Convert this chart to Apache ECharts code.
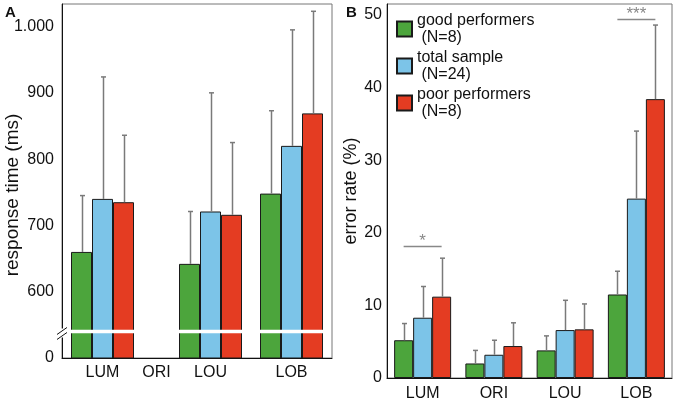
<!DOCTYPE html>
<html><head><meta charset="utf-8">
<script src="https://cdn.jsdelivr.net/npm/echarts@6/dist/echarts.min.js"></script>
<style>html,body{margin:0;padding:0;background:#fff}#c{width:678px;height:402px}</style>
</head><body><div id="c"></div>
<script>
// ---------- data ----------
const categories = ['LUM', 'ORI', 'LOU', 'LOB'];
const seriesNames = ['good performers\n (N=8)', 'total sample\n (N=24)', 'poor performers\n (N=8)'];

// Panel A: response time (ms) — no values for ORI
const rtGood  = [660, null, 642, 748];
const rtTotal = [740, null, 721, 820];
const rtPoor  = [735, null, 716, 869];
const rtGoodUpper  = [745, null, 721, 873];
const rtTotalUpper = [924, null, 900, 995];
const rtPoorUpper  = [836, null, 825, 1023];
const rtTicks = [500, 600, 700, 800, 900, 1000];          // 500 = bottom of broken axis
const rtTickLabels = ['0', '600', '700', '800', '900', '1.000'];
const rtBreak = 540;
const rtAxisName = 'response time (ms)';

// Panel B: error rate (%)
const erGood  = [5.2, 2.0, 3.8, 11.5];
const erTotal = [8.3, 3.2, 6.6, 24.7];
const erPoor  = [11.2, 4.4, 6.7, 38.4];
const erGoodUpper  = [7.5, 3.8, 5.8, 14.7];
const erTotalUpper = [12.6, 5.2, 10.7, 34.0];
const erPoorUpper  = [16.5, 7.6, 10.2, 48.6];
const erTicks = [0, 10, 20, 30, 40, 50];

// significance brackets (panel B)
const sigCategories = ['LUM', 'LOB'];
const sigLevels = [18.2, 49.4];
const sigLabels = ['*', '***'];

// ---------- layout ----------
const slotA = [1, 3, 5, 8];              // slot of each category on panel A's axis
const nSlotsA = 10;
const axisSlotsA = Array.from({length: nSlotsA}, (_, k) => {
  const i = slotA.indexOf(k); return i >= 0 ? categories[i] : '';
});
const barWA = 21, barWB = 19;
const colors = ['#4ca53c', '#7cc4e8', '#e43c22'];
const FONT = 'Liberation Sans, Arial, sans-serif';

const chart = echarts.init(document.getElementById('c'), null, {renderer: 'canvas'});

function toSlotsA(vals) {
  const out = new Array(nSlotsA).fill('-');
  vals.forEach((v, i) => { if (v != null) out[slotA[i]] = v; });
  return out;
}

function errSeries(name, upper, vals, gi, off, isA) {
  const data = [];
  vals.forEach((v, i) => {
    if (v == null) return;
    data.push([isA ? slotA[i] : i, upper[i], v]);
  });
  return {
    type: 'custom', name: name + '_err', xAxisIndex: gi, yAxisIndex: gi, z: 3,
    silent: true, data: data,
    encode: {x: 0, y: [1, 2]},
    renderItem: function (params, api) {
      const x = api.value(0);
      const top = api.coord([x, api.value(1)]);
      const bot = api.coord([x, api.value(2)]);
      const cx = Math.round(top[0] + off) + 0.5;
      const st = {stroke: '#7a7a7a', lineWidth: 1.5};
      return {type: 'group', children: [
        {type: 'line', shape: {x1: cx, y1: top[1], x2: cx, y2: bot[1]}, style: st},
        {type: 'line', shape: {x1: cx - 2.5, y1: top[1], x2: cx + 2.5, y2: top[1]}, style: st}
      ]};
    }
  };
}

function barSeries(name, vals, idx, gi, isA) {
  return {
    type: 'bar', name: name, xAxisIndex: gi, yAxisIndex: gi,
    barWidth: isA ? barWA : barWB, barGap: '0%', clip: true,
    itemStyle: {color: colors[idx], borderColor: '#1a1a1a', borderWidth: 1},
    data: isA ? toSlotsA(vals) : vals, z: 2
  };
}

const axisLineStyle = {lineStyle: {color: '#111', width: 1}};
const labelStyle = {color: '#111', fontSize: 16, fontFamily: FONT};

const option = {
  animation: false,
  backgroundColor: '#fff',
  grid: [
    {left: 62, top: 4, width: 270, height: 354, show: true, borderColor: '#777', borderWidth: 1,
     outerBoundsMode: 'none', containLabel: false},
    {left: 387, top: 4, width: 285, height: 374, show: true, borderColor: '#777', borderWidth: 1,
     outerBoundsMode: 'none', containLabel: false}
  ],
  legend: {
    data: seriesNames, orient: 'vertical', left: 396, top: 12, padding: 0,
    itemWidth: 15, itemHeight: 15, itemGap: 3, icon: 'rect', selectedMode: false,
    textStyle: {color: '#111', fontSize: 16, lineHeight: 17, fontFamily: FONT}
  },
  xAxis: [
    {gridIndex: 0, type: 'category', data: axisSlotsA, boundaryGap: true,
     axisLine: axisLineStyle,
     axisTick: {alignWithLabel: true, length: 5, lineStyle: {color: '#111'},
                interval: (i, v) => v !== ''},
     axisLabel: Object.assign({margin: 7, interval: 0}, labelStyle)},
    {gridIndex: 1, type: 'category', data: categories, boundaryGap: true,
     axisLine: axisLineStyle,
     axisTick: {alignWithLabel: true, length: 4, lineStyle: {color: '#111'}},
     axisLabel: Object.assign({margin: 8}, labelStyle)}
  ],
  yAxis: [
    {gridIndex: 0, type: 'value', min: 500, max: 1034,
     axisLine: {show: true, onZero: false, lineStyle: {color: '#111', width: 1}}, splitLine: {show: false},
     axisTick: {customValues: rtTicks, length: 6, lineStyle: {color: '#111'}},
     axisLabel: Object.assign({customValues: rtTicks, margin: 8,
       formatter: v => rtTickLabels[rtTicks.indexOf(v)] || ''}, labelStyle)},
    {gridIndex: 1, type: 'value', min: 0, max: 51.5,
     name: 'error rate (%)', nameLocation: 'middle', nameGap: 22,
     nameTextStyle: {color: '#111', fontSize: 18, fontFamily: FONT},
     axisLine: {show: true, onZero: false, lineStyle: {color: '#111', width: 1}}, splitLine: {show: false},
     axisTick: {customValues: erTicks, length: 4, lineStyle: {color: '#111'}},
     axisLabel: Object.assign({customValues: erTicks, margin: 5}, labelStyle)}
  ],
  series: [
    barSeries(seriesNames[0], rtGood, 0, 0, true),
    barSeries(seriesNames[1], rtTotal, 1, 0, true),
    barSeries(seriesNames[2], rtPoor, 2, 0, true),
    errSeries('a0', rtGoodUpper, rtGood, 0, -barWA, true),
    errSeries('a1', rtTotalUpper, rtTotal, 0, 0, true),
    errSeries('a2', rtPoorUpper, rtPoor, 0, barWA, true),
    barSeries(seriesNames[0], erGood, 0, 1, false),
    barSeries(seriesNames[1], erTotal, 1, 1, false),
    barSeries(seriesNames[2], erPoor, 2, 1, false),
    errSeries('b0', erGoodUpper, erGood, 1, -barWB, false),
    errSeries('b1', erTotalUpper, erTotal, 1, 0, false),
    errSeries('b2', erPoorUpper, erPoor, 1, barWB, false),
    {
      type: 'custom', name: 'sig', xAxisIndex: 1, yAxisIndex: 1, silent: true, z: 4,
      data: sigCategories.map((c, i) => [categories.indexOf(c), sigLevels[i], i]),
      renderItem: function (params, api) {
        const p = api.coord([api.value(0), api.value(1)]);
        const y = Math.round(p[1]) + 0.5;
        return {type: 'group', children: [
          {type: 'line', shape: {x1: p[0] - barWB, y1: y, x2: p[0] + barWB, y2: y},
           style: {stroke: '#888', lineWidth: 1.5}},
          {type: 'text', x: p[0], y: y - 5,
           style: {text: sigLabels[api.value(2)], fill: '#888', fontSize: 17, fontFamily: FONT,
                   align: 'center', verticalAlign: 'middle'}}
        ]};
      }
    }
  ]
};
chart.setOption(option);

// axis-break decoration, y-axis title of panel A and panel letters
const gridRect = chart.getModel().getComponent('grid', 0).coordinateSystem.getRect();
const yb = chart.convertToPixel({xAxisIndex: 0, yAxisIndex: 0}, [0, rtBreak])[1];
const xL = Math.round(gridRect.x), xR = Math.round(gridRect.x + gridRect.width);
chart.setOption({
  graphic: [
    {type: 'rect', z: 100, shape: {x: xL + 1, y: yb - 1.8, width: xR - xL - 5, height: 3.6},
     style: {fill: '#fff'}},
    {type: 'rect', z: 100, shape: {x: xL - 1.5, y: yb - 3, width: 3, height: 9}, style: {fill: '#fff'}},
    {type: 'line', z: 101, shape: {x1: xL - 5, y1: yb + 3, x2: xL + 5, y2: yb - 4},
     style: {stroke: '#111', lineWidth: 1}},
    {type: 'line', z: 101, shape: {x1: xL - 5, y1: yb + 8, x2: xL + 5, y2: yb + 1},
     style: {stroke: '#111', lineWidth: 1}},
    {type: 'text', z: 101, x: 13, y: 195, rotation: Math.PI / 2,
     style: {text: rtAxisName, fill: '#111', fontSize: 19, fontFamily: FONT,
             align: 'center', verticalAlign: 'middle'}},
    {type: 'text', z: 101, left: 5, top: 5,
     style: {text: 'A', fill: '#111', fontSize: 15, fontWeight: 'bold', fontFamily: FONT}},
    {type: 'text', z: 101, left: 346, top: 5,
     style: {text: 'B', fill: '#111', fontSize: 15, fontWeight: 'bold', fontFamily: FONT}}
  ]
});
</script></body></html>
